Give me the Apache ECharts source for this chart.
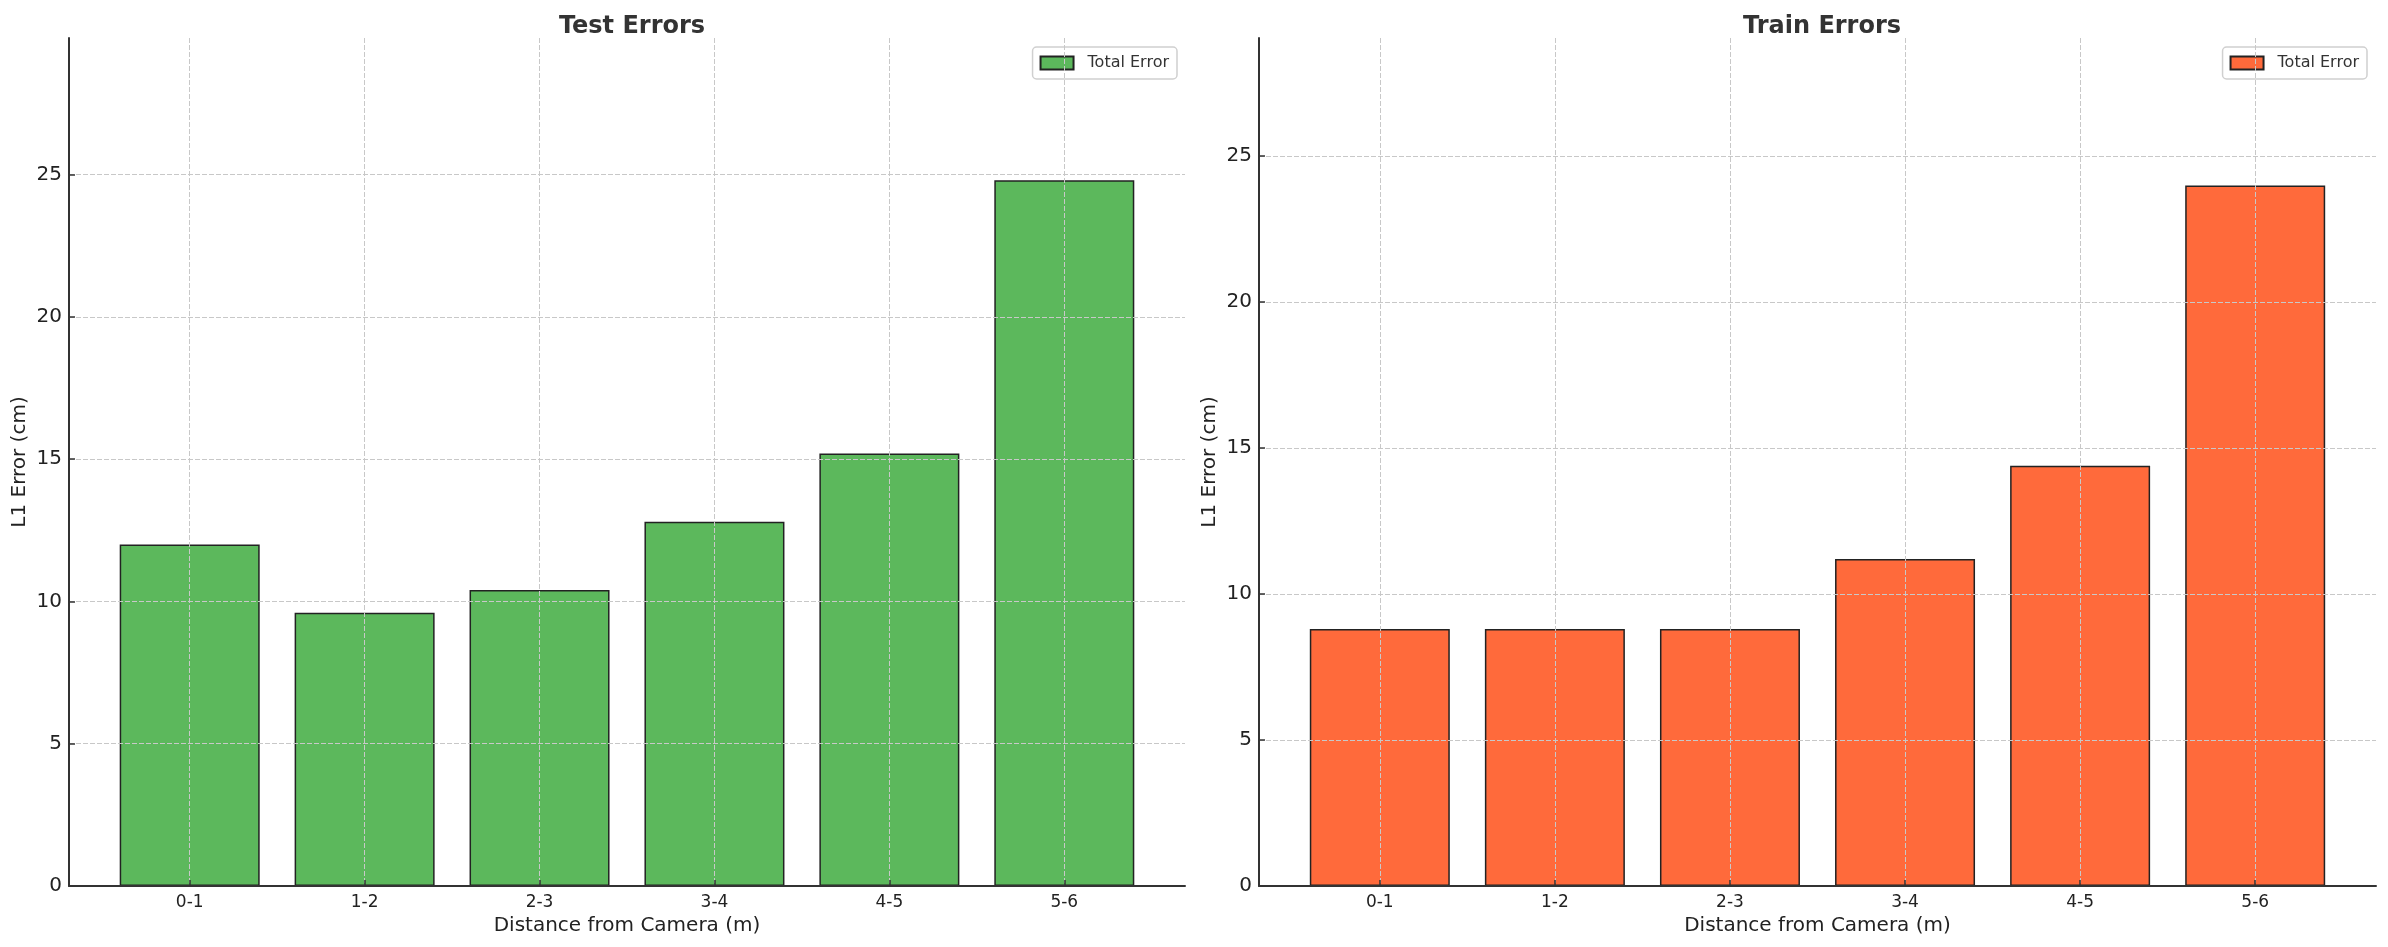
<!DOCTYPE html>
<html>
<head>
<meta charset="utf-8">
<script src="https://cdn.jsdelivr.net/npm/echarts@6/dist/echarts.min.js"></script>
<style>html,body{margin:0;padding:0;background:#fff}#c{width:2388px;height:947px}</style>
</head>
<body>
<div id="c"></div>
<script>
const categories = ['0-1', '1-2', '2-3', '3-4', '4-5', '5-6'];
const testErrors = [12.0, 9.6, 10.4, 12.8, 15.2, 24.8];
const trainErrors = [8.8, 8.8, 8.8, 11.2, 14.4, 24.0];
const yTicks = [0, 5, 10, 15, 20, 25];
const xTicks = [0, 1, 2, 3, 4, 5];
const testYMax = 29.8;
const trainYMax = 29.05;
const legendLabel = 'Total Error';

const FONT = '"DejaVu Sans", sans-serif';
const GREEN = '#5cb85c';
const ORANGE = '#ff6a3b';

function xAxisCfg(gi) {
  return {
    type: 'value', gridIndex: gi, min: -0.69, max: 5.69, z: 5,
    name: 'Distance from Camera (m)', nameLocation: 'middle', nameGap: 29,
    nameTextStyle: {fontFamily: FONT, fontSize: 20, color: '#222'},
    axisLine: {show: true, onZero: false, lineStyle: {color: '#333', width: 2}},
    axisTick: {show: true, inside: true, length: 6, customValues: xTicks, lineStyle: {color: '#333', width: 1.5}},
    axisLabel: {customValues: xTicks, formatter: v => categories[Math.round(v)] ?? '', fontFamily: FONT, fontSize: 17, color: '#222', margin: 8},
    splitLine: {show: true, lineStyle: {color: '#c8c8c8', width: 1, type: [5, 2]}}
  };
}
function yAxisCfg(gi, max) {
  return {
    type: 'value', gridIndex: gi, min: 0, max: max, z: 5,
    name: 'L1 Error (cm)', nameLocation: 'middle', nameGap: 39,
    nameTextStyle: {fontFamily: FONT, fontSize: 20, color: '#222'},
    axisLine: {show: true, onZero: false, lineStyle: {color: '#333', width: 2}},
    axisTick: {show: true, inside: true, length: 6, customValues: yTicks, lineStyle: {color: '#333', width: 1.5}},
    axisLabel: {customValues: yTicks, fontFamily: FONT, fontSize: 20, color: '#222', margin: 7},
    splitLine: {show: true, lineStyle: {color: '#c8c8c8', width: 1, type: [5, 2]}}
  };
}
function legendCfg(name, right) {
  return {
    data: [name], right: right, top: 47, orient: 'vertical',
    icon: 'rect', itemWidth: 33, itemHeight: 13,
    formatter: () => legendLabel,
    backgroundColor: 'rgba(255,255,255,0.85)', borderColor: '#d0d0d0', borderWidth: 1.5, borderRadius: 4,
    padding: [8, 8, 8, 7],
    textStyle: {fontFamily: FONT, fontSize: 16, color: '#333', lineHeight: 16, padding: [0, 0, 0, 9]}
  };
}

const chart = echarts.init(document.getElementById('c'), null, {renderer: 'canvas'});
chart.setOption({
  animation: false,
  backgroundColor: '#fff',
  title: [
    {text: 'Test Errors', left: 627, top: 10, textAlign: 'center', textStyle: {fontFamily: FONT, fontSize: 24, fontWeight: 'bold', color: '#333'}},
    {text: 'Train Errors', left: 1817, top: 10, textAlign: 'center', textStyle: {fontFamily: FONT, fontSize: 24, fontWeight: 'bold', color: '#333'}}
  ],
  legend: [legendCfg('test', 1211), legendCfg('train', 21)],
  grid: [
    {left: 69, top: 38, width: 1116, bottom: 61, containLabel: false},
    {left: 1259, top: 38, width: 1117, bottom: 61, containLabel: false}
  ],
  xAxis: [xAxisCfg(0), xAxisCfg(1)],
  yAxis: [yAxisCfg(0, testYMax), yAxisCfg(1, trainYMax)],
  series: [
    {name: 'test', type: 'bar', xAxisIndex: 0, yAxisIndex: 0, barWidth: 140,
     data: testErrors.map((v, i) => [i, v]),
     itemStyle: {color: GREEN, borderColor: '#222', borderWidth: 1.5}},
    {name: 'train', type: 'bar', xAxisIndex: 1, yAxisIndex: 1, barWidth: 140,
     data: trainErrors.map((v, i) => [i, v]),
     itemStyle: {color: ORANGE, borderColor: '#222', borderWidth: 1.5}}
  ]
});
</script>
</body>
</html>
